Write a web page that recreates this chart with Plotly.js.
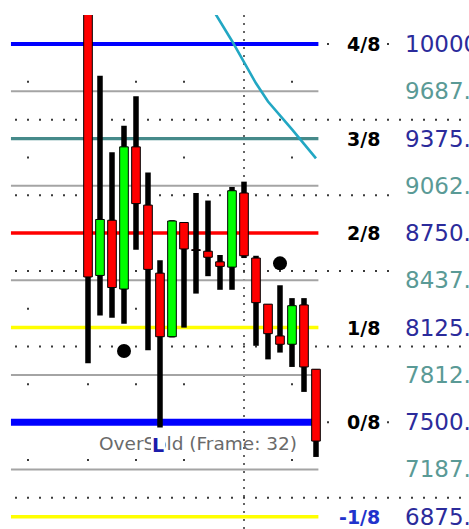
<!DOCTYPE html>
<html><head><meta charset="utf-8">
<script src="https://cdn.plot.ly/plotly-3.0.1.min.js"></script>
<style>html,body{margin:0;padding:0;background:#fff;overflow:hidden}</style>
</head><body><div id="chart" style="width:469px;height:529px"></div>
<script>
// ---------------- data ----------------
const bars  = [0,1,2,3,4,5,6,7,8,9,10,11,12,13,14,15,16,17,18,19];
const open  = [10400,8470,8835,8380,9320,8935,8485,8065,8820,8640,8630,8560,8525,9015,8585,8280,8070,8015,8275,7850];
const high  = [10450,9790,9285,9460,9655,9150,8570,8835,8820,9015,8965,8605,9055,9090,8600,8280,8405,8320,8320,7850];
const low   = [7890,8205,8190,8150,8640,7975,7465,8060,8125,8350,8465,8375,8375,8585,8005,7915,7960,7865,7700,7270];
const close = [8460,8840,8390,9320,8945,8510,8065,8830,8645,8635,8590,8530,9030,8600,8290,8085,8015,8270,7865,7375];

const maBars   = [10,11,12,13,14,15,16,17,18,19];
const maValues = [10280,10150,10020,9880,9740,9620,9530,9435,9340,9244];

const levelValues = [10000,9687.5,9375,9062.5,8750,8437.5,8125,7812.5,7500,7187.5,6875];
const levelNames  = ['4/8','','3/8','','2/8','','1/8','','0/8','','-1/8'];

const signalBars   = [3,16];
const signalValues = [7970,8550];

const gridPrices   = [10000,9500,9000,8500,8000,7500,7000];
const sparsePrices = [9750,9250,8750,8250,7750,7250];
const sparseBars   = [-5,0,4,8,17];
const separatorBar = 13;

const lowMarkBar  = 6;
const lowMarkText = 'L';
const noteText    = 'OverSold (Frame: 32)';

// ---------------- styles / layout constants ----------------
const W = 469, H = 529, TOP = 15;
const xRange = [-88/12, (469-88)/12];
const yRange = [6793.7, 10191.7];
const lineStart = -6.42, lineEnd = 19.2;
const gridBarFrom = -6, gridBarTo = 31;
const levelStyle = [
  {c:'#0000ff', w:4}, {c:'#a4a4a4', w:2}, {c:'#468a8a', w:3.3}, {c:'#a4a4a4', w:2},
  {c:'#ff0000', w:3.5}, {c:'#a4a4a4', w:2}, {c:'#ffff00', w:3.5}, {c:'#a4a4a4', w:2},
  {c:'#0000ff', w:7}, {c:'#a4a4a4', w:2}, {c:'#ffff00', w:3.5}
];
const navy = '#2b2b9b', teal = '#5a9a96';
const px = v => v / W;

// ---------------- traces ----------------
const traces = [];

// dotted price grid
const gx = [], gy = [];
gridPrices.forEach(p => { for (let b = gridBarFrom; b <= gridBarTo; b++) { gx.push(b); gy.push(p); } });
sparsePrices.forEach(p => sparseBars.forEach(b => { gx.push(b); gy.push(p); }));
traces.push({type:'scatter', mode:'markers', x:gx, y:gy,
  marker:{symbol:'square', size:2, color:'#3a3a3a'}, hoverinfo:'skip'});

// Murrey levels
levelValues.forEach((v, i) => {
  traces.push({type:'scatter', mode:'lines', x:[lineStart, lineEnd], y:[v, v],
    line:{color:levelStyle[i].c, width:levelStyle[i].w}, hoverinfo:'skip'});
});

// moving line
traces.push({type:'scatter', mode:'lines', x:maBars, y:maValues,
  line:{color:'#22a7c3', width:2.6}, hoverinfo:'skip'});

// candles (overlay subplot, drawn on top of levels)
traces.push({type:'bar', x:bars, base:low, y:high.map((h, i) => h - low[i]),
  width:0.46, marker:{color:'#000000', line:{width:0}}, xaxis:'x2', yaxis:'y2', hoverinfo:'skip'});
traces.push({type:'bar', x:bars,
  base:open.map((o, i) => Math.min(o, close[i])),
  y:open.map((o, i) => Math.max(Math.abs(close[i] - o), 4)),
  width:0.72,
  marker:{color:open.map((o, i) => close[i] > o ? '#00ff00' : '#ff0000'), line:{color:'#000000', width:1}},
  xaxis:'x2', yaxis:'y2', hoverinfo:'skip'});
traces.push({type:'scatter', mode:'markers', x:signalBars, y:signalValues,
  marker:{size:14, color:'#000000'}, xaxis:'x2', yaxis:'y2', hoverinfo:'skip'});

// ---------------- annotations & shapes ----------------
const annotations = [];
const shapes = [{type:'line', xref:'x', yref:'paper', x0:separatorBar, x1:separatorBar, y0:0, y1:1,
  line:{color:'#333333', width:1.5, dash:'2px,6px'}, layer:'below'}];

levelValues.forEach((v, i) => {
  const main = levelNames[i] !== '';
  shapes.push({type:'rect', xref:'paper', yref:'y', ysizemode:'pixel', yanchor:v, y0:-11.5, y1:11.5,
    x0:px(395), x1:px(475), fillcolor:'#ffffff', line:{width:0}, layer:'above'});
  annotations.push({xref:'paper', yref:'y', x:px(405), y:v, xanchor:'left', yanchor:'middle',
    text:v.toFixed(2), showarrow:false, borderpad:0, borderwidth:0,
    font:{family:'DejaVu Sans', size:23, color: main ? navy : teal}});
  if (main) {
    shapes.push({type:'rect', xref:'paper', yref:'y', ysizemode:'pixel', yanchor:v, y0:-11, y1:11,
      x0:px(334), x1:px(385), fillcolor:'#ffffff', line:{width:0}, layer:'above'});
    annotations.push({xref:'paper', yref:'y', x:px(380), y:v, xanchor:'right', yanchor:'middle',
      text:levelNames[i], showarrow:false, borderpad:0, borderwidth:0,
      font:{family:'DejaVu Sans', size:19, weight:'bold', color: v < 7000 ? '#2233cc' : '#000000'}});
  }
});

annotations.push({xref:'paper', yref:'paper', x:px(99), y:(H - 443.5) / (H - TOP), xanchor:'left', yanchor:'middle',
  text:noteText, showarrow:false, borderpad:0, borderwidth:0,
  font:{family:'DejaVu Sans', size:18.5, color:'#6a6a6a'}});
annotations.push({xref:'x', yref:'y', x:bars[lowMarkBar], y:low[lowMarkBar], xanchor:'center', yanchor:'top',
  xshift:-2, yshift:-6, text:lowMarkText, showarrow:false, borderpad:1, borderwidth:0, bgcolor:'#ffffff',
  font:{family:'DejaVu Sans', size:19, weight:'bold', color:'#1c1caa'}});

const layout = {
  width:W, height:H, margin:{l:0, r:0, t:TOP, b:0, pad:0},
  paper_bgcolor:'#ffffff', plot_bgcolor:'#ffffff', showlegend:false, barmode:'overlay',
  hovermode:false,
  xaxis:{range:xRange, visible:false, fixedrange:true},
  yaxis:{range:yRange, visible:false, fixedrange:true},
  xaxis2:{range:xRange, visible:false, overlaying:'x', fixedrange:true},
  yaxis2:{range:yRange, visible:false, overlaying:'y', fixedrange:true},
  annotations:annotations, shapes:shapes
};
Plotly.newPlot('chart', traces, layout, {staticPlot:true, displayModeBar:false});
</script></body></html>
